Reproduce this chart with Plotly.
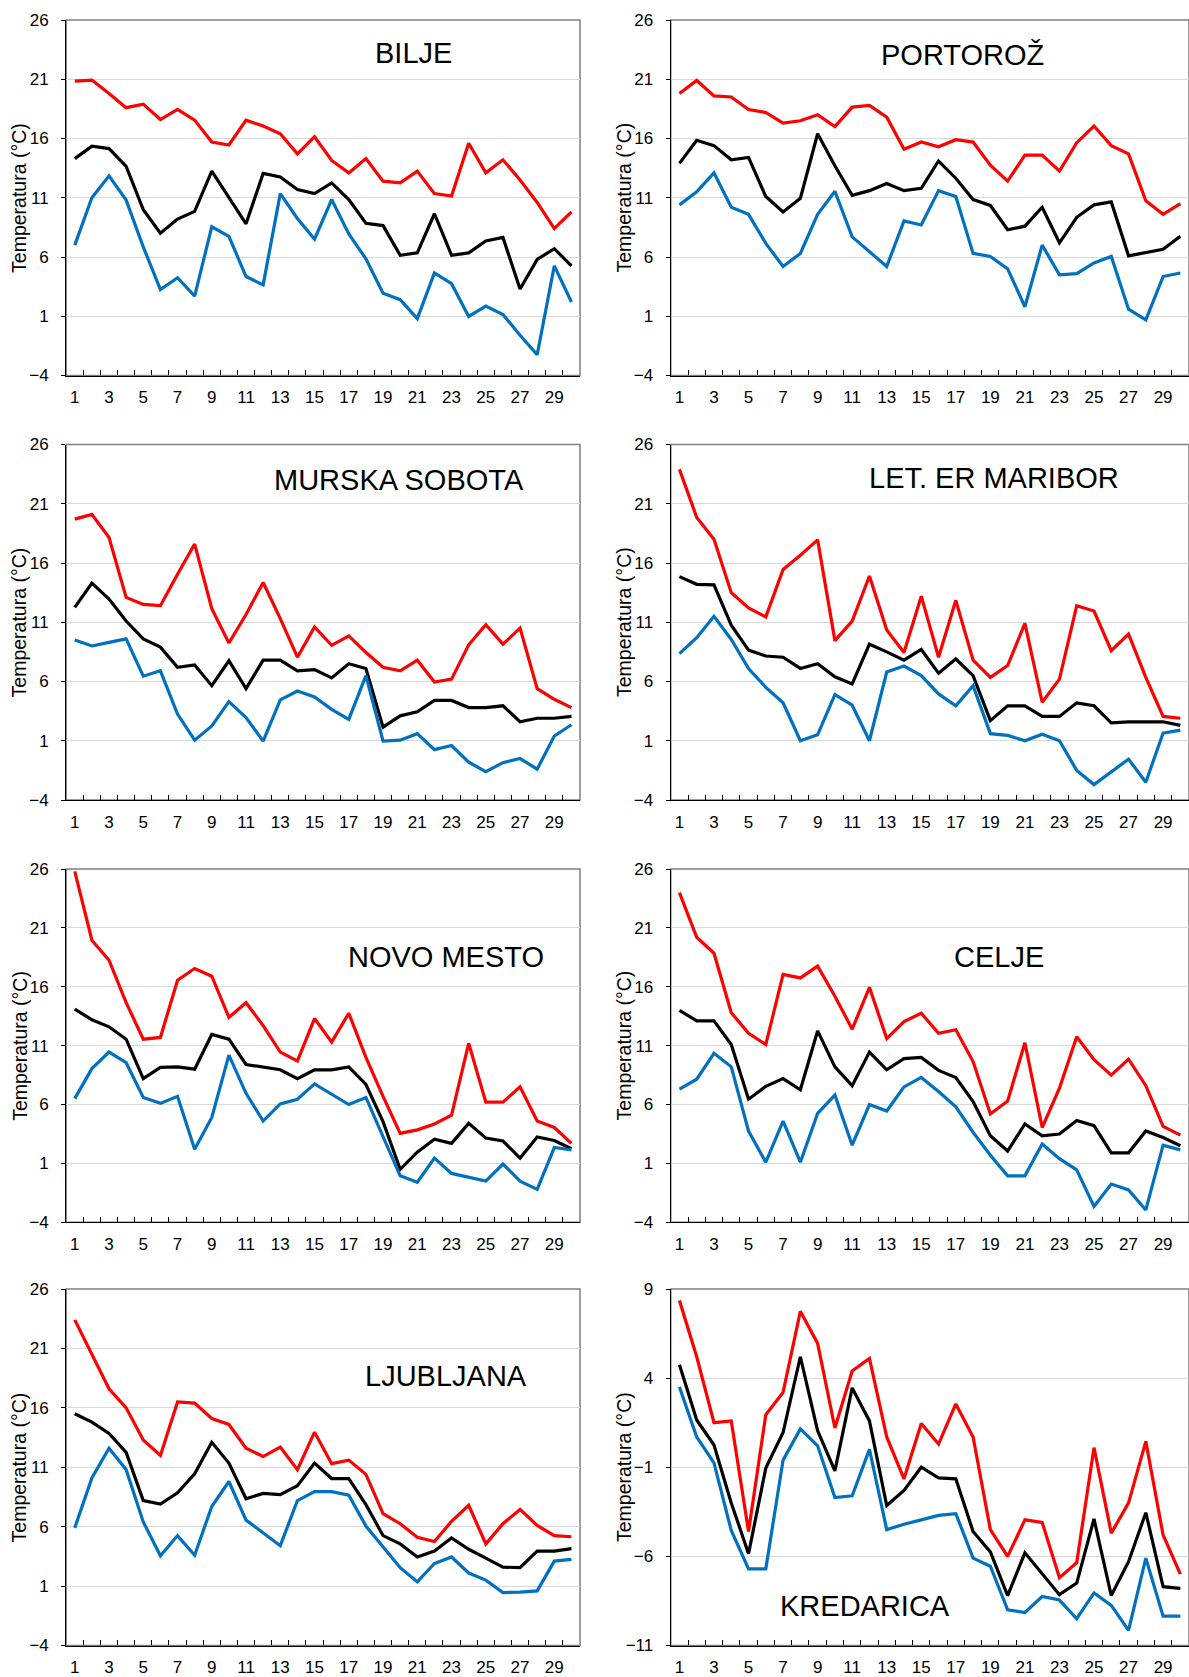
import plotly.graph_objects as go

days = list(range(1, 31))
stations = ["BILJE", "PORTOROŽ", "MURSKA SOBOTA", "LET. ER MARIBOR",
            "NOVO MESTO", "CELJE", "LJUBLJANA", "KREDARICA"]

bilje_max = [20.85, 20.93, 19.8, 18.6, 18.9, 17.6, 18.45, 17.55, 15.7, 15.45,
             17.55, 17.05, 16.4, 14.7, 16.15, 14.15, 13.1, 14.3, 12.4, 12.25,
             13.25, 11.35, 11.15, 15.6, 13.1, 14.2, 12.5, 10.6, 8.4, 9.8]
bilje_mean = [14.3, 15.35, 15.15, 13.65, 10.0, 8.0, 9.2, 9.85, 13.25, 11.0,
              8.8, 13.05, 12.75, 11.7, 11.35, 12.25, 10.85, 8.85, 8.65, 6.15,
              6.35, 9.65, 6.15, 6.35, 7.35, 7.65, 3.3, 5.8, 6.7, 5.25]
bilje_min = [7.0, 11.0, 12.85, 10.8, 6.85, 3.25, 4.25, 2.7, 8.55, 7.75,
             4.35, 3.65, 11.35, 9.25, 7.5, 10.85, 7.95, 5.85, 2.95, 2.4,
             0.8, 4.65, 3.75, 0.98, 1.85, 1.15, -0.6, -2.25, 5.25, 2.2]

portoroz_max = [19.8, 20.9, 19.6, 19.5, 18.45, 18.2, 17.3, 17.5, 18.0, 17.0,
                18.65, 18.8, 17.8, 15.1, 15.7, 15.3, 15.9, 15.7, 13.75, 12.4,
                14.6, 14.6, 13.25, 15.65, 17.05, 15.4, 14.7, 10.75, 9.6, 10.5]
portoroz_mean = [13.9, 15.85, 15.4, 14.2, 14.4, 11.1, 9.8, 10.95, 16.4, 13.7,
                 11.2, 11.6, 12.2, 11.6, 11.8, 14.1, 12.65, 10.85, 10.35, 8.3,
                 8.6, 10.2, 7.2, 9.35, 10.4, 10.65, 6.1, 6.4, 6.65, 7.75]
portoroz_min = [10.4, 11.5, 13.1, 10.2, 9.6, 7.15, 5.2, 6.3, 9.6, 11.55,
                7.7, 6.45, 5.2, 9.05, 8.7, 11.6, 11.1, 6.3, 6.05, 5.0,
                1.8, 7.0, 4.5, 4.6, 5.5, 6.05, 1.6, 0.7, 4.35, 4.65]

murska_max = [19.7, 20.1, 18.15, 13.1, 12.5, 12.4, 15.05, 17.6, 12.15, 9.25,
              11.65, 14.35, 11.3, 8.05, 10.6, 9.05, 9.85, 8.45, 7.2, 6.9,
              7.8, 5.95, 6.2, 9.1, 10.8, 9.15, 10.5, 5.4, 4.5, 3.8]
murska_mean = [12.25, 14.3, 12.95, 11.1, 9.6, 8.9, 7.2, 7.4, 5.65, 7.75,
               5.4, 7.8, 7.8, 6.9, 7.0, 6.3, 7.5, 7.1, 2.15, 3.1,
               3.45, 4.4, 4.4, 3.8, 3.8, 3.95, 2.6, 2.9, 2.9, 3.05]
murska_min = [9.5, 9.0, 9.3, 9.6, 6.45, 6.9, 3.25, 1.05, 2.25, 4.3,
              2.95, 0.97, 4.45, 5.2, 4.7, 3.65, 2.8, 6.5, 0.97, 1.05,
              1.6, 0.25, 0.6, -0.8, -1.6, -0.85, -0.5, -1.4, 1.4, 2.35]

maribor_max = [23.9, 19.85, 18.0, 13.5, 12.2, 11.45, 15.45, 16.65, 17.95, 9.45,
               11.1, 14.9, 10.35, 8.45, 13.2, 8.05, 12.85, 7.8, 6.35, 7.35,
               10.9, 4.25, 6.2, 12.4, 11.95, 8.6, 10.0, 6.35, 3.05, 2.9]
maribor_mean = [14.85, 14.2, 14.15, 10.75, 8.65, 8.15, 8.05, 7.1, 7.5, 6.4,
                5.8, 9.15, 8.5, 7.8, 8.7, 6.7, 7.9, 6.5, 2.7, 3.95,
                3.95, 3.05, 3.05, 4.2, 3.95, 2.5, 2.6, 2.6, 2.6, 2.3]
maribor_min = [8.35, 9.7, 11.5, 9.55, 7.1, 5.5, 4.2, 1.0, 1.5, 4.9,
               4.0, 1.0, 6.8, 7.3, 6.5, 4.95, 3.95, 5.65, 1.6, 1.45,
               1.0, 1.55, 1.0, -1.5, -2.7, -1.6, -0.55, -2.5, 1.65, 1.9]

novo_max = [25.8, 19.95, 18.25, 14.65, 11.55, 11.7, 16.55, 17.55, 16.9, 13.4,
            14.65, 12.7, 10.45, 9.7, 13.3, 11.3, 13.75, 10.0, 6.7, 3.55,
            3.85, 4.35, 5.1, 11.2, 6.2, 6.2, 7.5, 4.6, 4.05, 2.7]
novo_mean = [14.1, 13.2, 12.6, 11.55, 8.2, 9.15, 9.2, 9.0, 11.95, 11.55,
             9.4, 9.2, 8.95, 8.2, 8.95, 8.95, 9.2, 7.7, 4.55, 0.5,
             1.95, 3.05, 2.7, 4.4, 3.15, 2.9, 1.45, 3.25, 2.95, 2.25]
novo_min = [6.5, 9.05, 10.45, 9.55, 6.6, 6.1, 6.7, 2.2, 4.9, 10.2,
            6.95, 4.6, 6.05, 6.45, 7.75, 6.85, 6.0, 6.6, 3.2, -0.05,
            -0.6, 1.45, 0.15, -0.2, -0.5, 0.95, -0.5, -1.2, 2.35, 2.15]

celje_max = [24.0, 20.2, 18.85, 13.8, 12.05, 11.1, 17.05, 16.75, 17.75, 15.2,
             12.4, 15.95, 11.6, 13.05, 13.75, 12.05, 12.35, 9.65, 5.2, 6.3,
             11.25, 4.05, 7.4, 11.75, 9.8, 8.5, 9.85, 7.6, 4.15, 3.4]
celje_mean = [14.0, 13.1, 13.1, 11.1, 6.45, 7.55, 8.2, 7.25, 12.25, 9.2,
              7.6, 10.45, 8.95, 9.9, 10.0, 8.9, 8.3, 6.25, 3.35, 2.05,
              4.35, 3.35, 3.5, 4.65, 4.2, 1.9, 1.9, 3.75, 3.2, 2.5]
celje_min = [7.3, 8.15, 10.35, 9.2, 3.75, 1.1, 4.6, 1.1, 5.25, 6.8,
             2.55, 6.0, 5.45, 7.5, 8.3, 7.1, 5.8, 3.65, 1.7, -0.05,
             -0.05, 2.65, 1.4, 0.45, -2.65, -0.75, -1.25, -2.95, 2.55, 2.15]

ljubljana_max = [23.4, 20.55, 17.6, 16.0, 13.3, 12.0, 16.5, 16.4, 15.1, 14.6,
                 12.6, 11.9, 12.7, 10.8, 13.95, 11.3, 11.6, 10.4, 7.1, 6.25,
                 5.1, 4.75, 6.45, 7.8, 4.55, 6.25, 7.45, 6.1, 5.25, 5.15]
ljubljana_mean = [15.5, 14.8, 13.85, 12.25, 8.2, 7.9, 8.85, 10.45, 13.1, 11.35,
                  8.35, 8.8, 8.7, 9.45, 11.35, 10.05, 10.05, 7.85, 5.25, 4.55,
                  3.45, 3.95, 5.05, 4.1, 3.35, 2.6, 2.55, 3.95, 3.95, 4.15]
ljubljana_min = [5.9, 10.1, 12.6, 10.8, 6.4, 3.55, 5.25, 3.6, 7.7, 9.8,
                 6.55, 5.5, 4.4, 8.2, 8.95, 8.95, 8.65, 6.05, 4.3, 2.55,
                 1.35, 2.9, 3.45, 2.1, 1.5, 0.45, 0.5, 0.6, 3.1, 3.25]

kredarica_max = [8.35, 5.2, 1.5, 1.6, -4.6, 1.95, 3.2, 7.75, 5.95, 1.2,
                 4.4, 5.1, 0.7, -1.65, 1.45, 0.3, 2.55, 0.7, -4.5, -6.0,
                 -3.95, -4.1, -7.2, -6.35, 0.1, -4.7, -3.0, 0.45, -4.8, -7.0]
kredarica_mean = [4.75, 1.65, 0.25, -3.0, -5.85, -1.05, 0.95, 5.2, 1.05, -1.2,
                  3.45, 1.6, -3.15, -2.3, -1.0, -1.6, -1.65, -4.6, -5.75, -8.2,
                  -5.8, -6.95, -8.15, -7.5, -3.9, -8.2, -6.3, -3.55, -7.7, -7.8]
kredarica_min = [3.5, 0.7, -0.75, -4.55, -6.7, -6.7, -0.6, 1.15, 0.2, -2.7,
                 -2.6, 0.0, -4.5, -4.2, -3.95, -3.7, -3.6, -6.1, -6.55, -9.0,
                 -9.15, -8.25, -8.45, -9.5, -8.05, -8.75, -10.15, -6.1, -9.35, -9.35]

series = [
    (bilje_max, bilje_mean, bilje_min),
    (portoroz_max, portoroz_mean, portoroz_min),
    (murska_max, murska_mean, murska_min),
    (maribor_max, maribor_mean, maribor_min),
    (novo_max, novo_mean, novo_min),
    (celje_max, celje_mean, celje_min),
    (ljubljana_max, ljubljana_mean, ljubljana_min),
    (kredarica_max, kredarica_mean, kredarica_min),
]
y_ranges = [(-4, 26)] * 7 + [(-11, 9)]
x_ticklabels = list(range(1, 30, 2))

# layout: label positions (data coords) per panel
label_pos = [(20.8, 23.25), (17.4, 23.06), (19.94, 23.03), (19.2, 23.2),
             (22.66, 18.5), (19.5, 18.5), (22.7, 18.7), (11.75, -8.8)]

W, H = 1189, 1677
col_x = [(66.2, 580.0), (670.8, 1189.0)]
row_y = [(20, 375.5), (444.5, 800), (869, 1222.3), (1289, 1645.5)]

colors = ["#FF0000", "#000000", "#0070C0"]
names = ["Tmax", "Tpovp", "Tmin"]
FONT = "Liberation Sans, Arial, sans-serif"

fig = go.Figure()
annotations = []
shapes = []
layout = {}
for i, st in enumerate(stations):
    n = i + 1
    r, c = divmod(i, 2)
    xd = [col_x[c][0] / W, min(col_x[c][1] / W, 1.0)]
    yd = [1 - row_y[r][1] / H, 1 - row_y[r][0] / H]
    xa = f"x{n}" if n > 1 else "x"
    ya = f"y{n}" if n > 1 else "y"
    for vals, col, nm in zip(series[i], colors, names):
        fig.add_trace(go.Scatter(x=days, y=vals, mode="lines", name=nm,
                                 line=dict(color=col, width=3.2),
                                 xaxis=xa, yaxis=ya, showlegend=False,
                                 hoverinfo="x+y"))
    y0, y1 = y_ranges[i]
    layout[f"xaxis{n}"] = dict(
        domain=xd, anchor=ya, range=[0.5, 30.5], automargin=False,
        tickmode="array", tickvals=x_ticklabels,
        ticktext=[str(v) for v in x_ticklabels],
        ticks="", showgrid=False, zeroline=False,
        showline=True, linecolor="black", linewidth=1.3,
        tickfont=dict(family=FONT, size=17, color="black"),
        ticklabelstandoff=6,
        minor=dict(tickmode="array", tickvals=[d + 0.5 for d in days[:-1]],
                   ticks="inside", ticklen=5, tickcolor="black",
                   tickwidth=1, showgrid=False),
        fixedrange=True,
    )
    layout[f"yaxis{n}"] = dict(
        domain=yd, anchor=xa, range=[y0, y1], automargin=False,
        tick0=y0, dtick=5, ticks="outside", ticklen=4, tickcolor="black",
        tickwidth=1,
        showgrid=True, gridcolor="#D9D9D9", gridwidth=1,
        zeroline=False, showline=True, linecolor="black", linewidth=1.3,
        tickfont=dict(family=FONT, size=17, color="black"),
        ticklabelstandoff=9, fixedrange=True,
    )
    shapes.append(dict(type="rect", xref=f"{xa} domain", yref=f"{ya} domain",
                       x0=0, x1=1, y0=0, y1=1, layer="below",
                       line=dict(color="#7F7F7F", width=1.5)))
    lx, ly = label_pos[i]
    annotations.append(dict(text=st, x=lx, y=ly, xref=xa, yref=ya,
                            showarrow=False, xanchor="center", yanchor="middle",
                            font=dict(family=FONT, size=29, color="black")))
    annotations.append(dict(text="Temperatura (°C)", x=0, y=0.5,
                            xref=f"{xa} domain", yref=f"{ya} domain",
                            xshift=-47, textangle=-90,
                            showarrow=False, xanchor="center", yanchor="middle",
                            font=dict(family=FONT, size=19.5, color="black")))

fig.update_layout(width=W, height=H, margin=dict(l=0, r=0, t=0, b=0, pad=0),
                  paper_bgcolor="white", plot_bgcolor="white",
                  showlegend=False, annotations=annotations, shapes=shapes,
                  **layout)
fig.write_html("out.html", config={"displayModeBar": False},
               post_script="document.body.style.margin='0';"
                           "document.body.style.overflow='hidden';")
